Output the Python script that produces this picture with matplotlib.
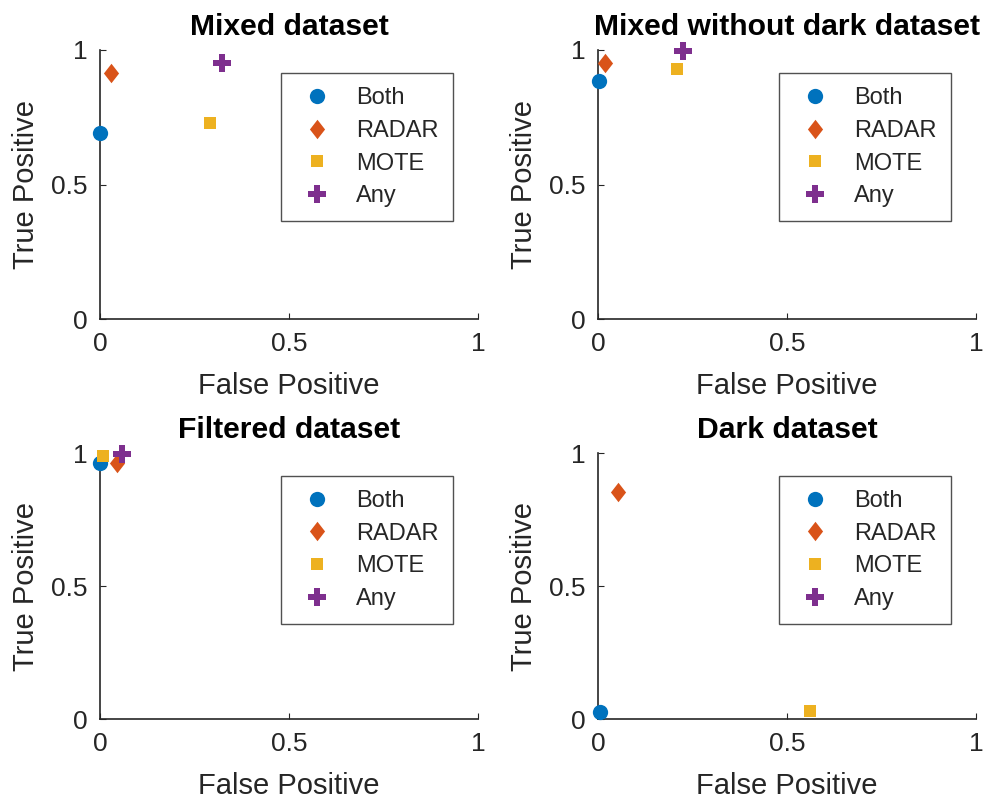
import matplotlib.pyplot as plt
from matplotlib.path import Path

plt.rcParams['font.family'] = ['Liberation Sans', 'DejaVu Sans']

titles = ["Mixed dataset", "Mixed without dark dataset", "Filtered dataset", "Dark dataset"]
series = ["Both", "RADAR", "MOTE", "Any"]

# false positive / true positive per panel, order: Both, RADAR, MOTE, Any
fp = [
    [0.0, 0.029, 0.29, 0.323],
    [0.003, 0.02, 0.209, 0.225],
    [0.0, 0.045, 0.008, 0.058],
    [0.005, 0.053, 0.56, None],
]
tp = [
    [0.69, 0.915, 0.729, 0.952],
    [0.885, 0.952, 0.929, 0.996],
    [0.962, 0.962, 0.99, 0.996],
    [0.026, 0.853, 0.03, None],
]

colors = ["#0072BD", "#D95319", "#EDB120", "#7E2F8E"]
# matlab style diamond, a bit narrower than tall
diamond = Path([(0, 1), (0.78, 0), (0, -1), (-0.78, 0), (0, 1)],
               [Path.MOVETO, Path.LINETO, Path.LINETO, Path.LINETO, Path.CLOSEPOLY])
markers = ["o", diamond, "s", "P"]
msizes = [11, 14, 9, 13]

fig = plt.figure(figsize=(9.85, 8.05), dpi=100)
pos = [
    [0.1015, 0.6037, 0.3838, 0.3342],
    [0.607, 0.6037, 0.3838, 0.3342],
    [0.1015, 0.1068, 0.3838, 0.3304],
    [0.607, 0.1068, 0.3838, 0.3304],
]
axc = "#262626"

for i in range(4):
    ax = fig.add_axes(pos[i])
    for j in range(4):
        x = fp[i][j]
        y = tp[i][j]
        if x is None:
            # series without a point in this panel, still listed in legend
            ax.plot([], [], linestyle="none", marker=markers[j], color=colors[j],
                    markersize=msizes[j], markeredgewidth=0, label=series[j])
            continue
        ax.plot([x], [y], linestyle="none", marker=markers[j], color=colors[j],
                markersize=msizes[j], markeredgewidth=0, label=series[j],
                clip_on=False, zorder=5)
    ax.set_xlim(0, 1)
    ax.set_ylim(0, 1)
    ax.set_xticks([0, 0.5, 1])
    ax.set_xticklabels(["0", "0.5", "1"])
    ax.set_yticks([0, 0.5, 1])
    ax.set_yticklabels(["0", "0.5", "1"])
    ax.spines["top"].set_visible(False)
    ax.spines["right"].set_visible(False)
    for s in ["left", "bottom"]:
        ax.spines[s].set_color(axc)
        ax.spines[s].set_linewidth(1.2)
    ax.tick_params(direction="in", length=4, colors=axc, labelsize=19, pad=9)
    ax.set_xlabel("False Positive", fontsize=21, color=axc, labelpad=12)
    ax.set_ylabel("True Positive", fontsize=21, color=axc, labelpad=8)
    ax.set_title(titles[i], fontsize=21.7, fontweight="bold", color="black", pad=11)
    leg = ax.legend(loc="upper right", bbox_to_anchor=(0.934, 0.914), fontsize=17,
                    frameon=True, fancybox=False, borderpad=0.6, labelspacing=0.45,
                    handlelength=1.9, handletextpad=0.7, borderaxespad=0)
    leg.get_frame().set_edgecolor("#262626")
    leg.get_frame().set_linewidth(1.0)
    for t in leg.get_texts():
        t.set_color(axc)

fig.savefig("out.png", dpi=100)
